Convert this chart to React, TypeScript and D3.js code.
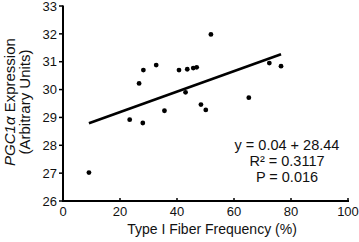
import React from "react";
import * as d3 from "d3";

const fiberFreq = [9.1, 23.4, 26.7, 28.2, 28.0, 32.7, 35.6, 40.7, 43.6, 45.7, 46.9, 43.0, 51.9, 48.4, 50.1, 65.2, 72.4, 76.5];
const pgcExpr = [27.02, 28.92, 30.22, 30.70, 28.80, 30.88, 29.24, 30.70, 30.73, 30.77, 30.80, 29.90, 31.98, 29.46, 29.27, 29.71, 30.95, 30.84];
const fitSlope = 0.0368;
const fitIntercept = 28.455;
const fitRange = [9.1, 76.5];
const xTicks = [0, 20, 40, 60, 80, 100];
const yTicks = [26, 27, 28, 29, 30, 31, 32, 33];
const statsLines = ["y = 0.04 + 28.44", "R² = 0.3117", "P = 0.016"];

const W = 359;
const H = 242;
const font = "'Liberation Sans', Arial, sans-serif";

export default function App() {
  const x = d3.scaleLinear().domain([0, 100]).range([63, 348]);
  const y = d3.scaleLinear().domain([26, 33]).range([201, 6]);
  const line = d3
    .line<number>()
    .x((d) => x(d))
    .y((d) => y(fitIntercept + fitSlope * d));

  return (
    <svg
      width={W}
      height={H}
      style={{ position: "absolute", left: 0, top: 0, background: "#fff" }}
      fontFamily={font}
    >
      {/* axes */}
      <line x1={x(0)} x2={x(100) + 1} y1={y(26)} y2={y(26)} stroke="#000" strokeWidth={2} />
      <line x1={x(0)} x2={x(0)} y1={y(33) - 0.5} y2={y(26) + 1} stroke="#000" strokeWidth={2} />
      {xTicks.map((t) => (
        <g key={"x" + t}>
          <line x1={x(t)} x2={x(t)} y1={y(26)} y2={y(26) - 3} stroke="#000" strokeWidth={1.5} />
          <text x={x(t)} y={216} fontSize={13} textAnchor="middle" fill="#111">
            {t}
          </text>
        </g>
      ))}
      {yTicks.map((t) => (
        <g key={"y" + t}>
          <line x1={x(0)} x2={x(0) - 4} y1={y(t)} y2={y(t)} stroke="#000" strokeWidth={1.5} />
          <text x={57} y={y(t)} dy="0.36em" fontSize={13} textAnchor="end" fill="#111">
            {t}
          </text>
        </g>
      ))}
      {/* axis titles */}
      <text x={212} y={234} fontSize={14} textAnchor="middle" fill="#111">
        Type I Fiber Frequency (%)
      </text>
      <g transform="translate(15,102) rotate(-90)">
        <text x={0} y={0} fontSize={15} textAnchor="middle" fill="#111">
          <tspan fontStyle="italic">PGC1α</tspan> Expression
        </text>
        <text x={0} y={15} fontSize={15} textAnchor="middle" fill="#111">
          (Arbitrary Units)
        </text>
      </g>
      {/* fit line */}
      <path d={line(fitRange) || ""} stroke="#000" strokeWidth={2.6} fill="none" />
      {/* points */}
      {fiberFreq.map((f, i) => (
        <circle key={i} cx={x(f)} cy={y(pgcExpr[i])} r={2.4} fill="#000" />
      ))}
      {/* stats */}
      {statsLines.map((s, i) => (
        <text key={i} x={287} y={150 + i * 16} fontSize={14.5} textAnchor="middle" fill="#111">
          {s}
        </text>
      ))}
    </svg>
  );
}
